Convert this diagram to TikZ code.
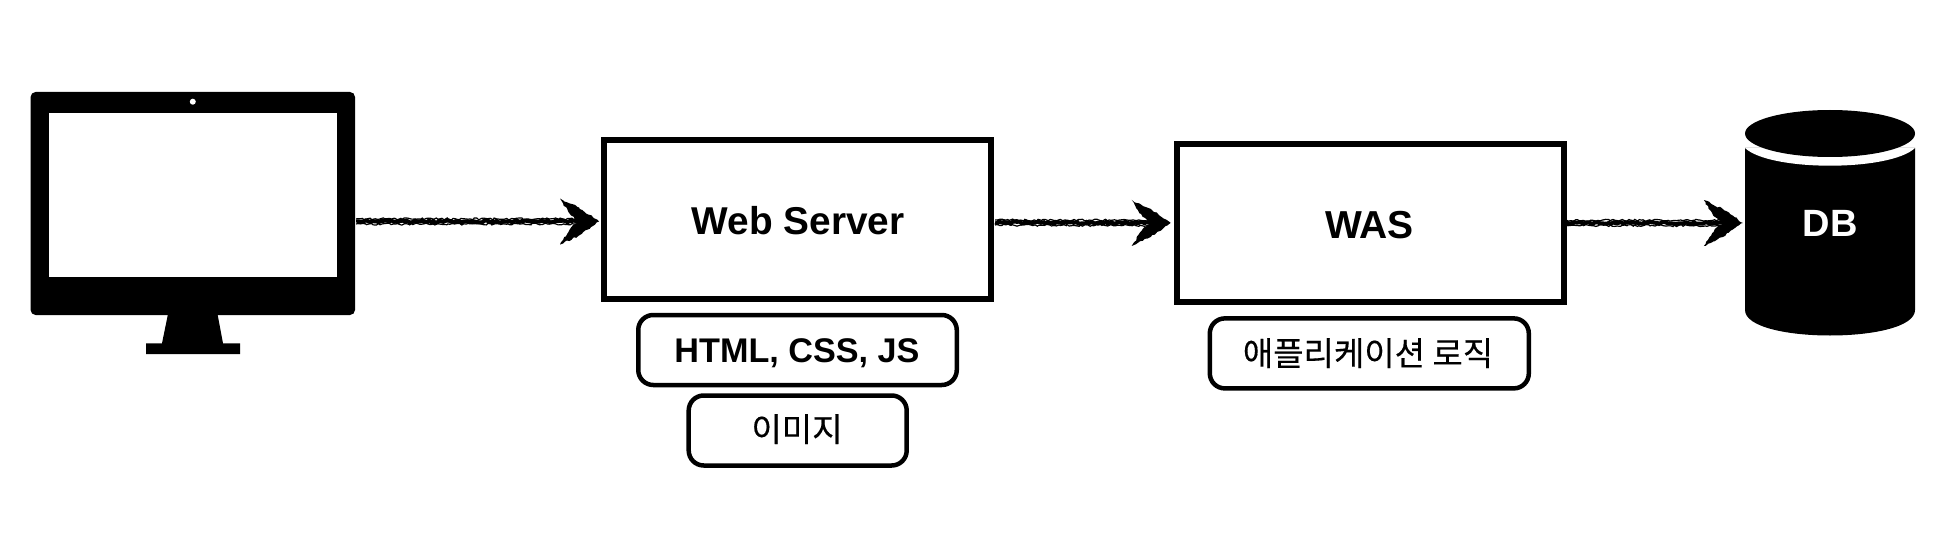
\documentclass[tikz,border=0pt]{standalone}
\usepackage{fontspec}
\setmainfont{Liberation Sans}
\newfontfamily\krfont[FakeBold=0.35]{Noto Sans CJK KR}
\usetikzlibrary{calc,decorations.pathmorphing}
\tikzset{
  bigbox/.style={draw=black,line width=6pt,fill=white,minimum width=387pt,minimum height=158pt,inner sep=0pt},
  tagbox/.style={draw=black,line width=4.5pt,fill=white,rounded corners=15pt,inner sep=0pt,minimum height=70pt},
  latinlabel/.style={anchor=base,inner sep=0pt,font=\bfseries},
  krlabel/.style={anchor=base,inner sep=0pt,font=\krfont},
  chalk/.style={decorate,decoration={random steps,segment length=2.2pt,amplitude=1pt},draw=black,line cap=butt},
  chalkfill/.style={decorate,decoration={random steps,segment length=2.5pt,amplitude=.9pt},fill=black},
}
\newcommand{\chalkarrow}[2]{%
  \draw[chalk,line width=4pt] ($(#1)+(0,0)$) -- ($(#2)+(-10,0)$);
  \draw[chalk,line width=1.2pt] ($(#1)+(0,-2.6)$) -- ($(#2)+(-22,-2.6)$);
  \draw[chalk,line width=1.2pt] ($(#1)+(0,2.6)$) -- ($(#2)+(-22,2.6)$);
  \path[chalkfill] (#2) -- ($(#2)+(-20,-14)$) -- ($(#2)+(-39,-23)$) -- ($(#2)+(-28,-6)$) -- ($(#2)+(-20,0)$) -- ($(#2)+(-28,6)$) -- ($(#2)+(-39,23)$) -- ($(#2)+(-20,14)$) -- cycle;
}
\begin{document}
\begin{tikzpicture}[x=1pt,y=-1pt]
\pgfmathsetseed{7}
\useasboundingbox (0,0) rectangle (1942,540);
\fill[white] (0,0) rectangle (1942,540);
% monitor
\fill[black] (168,314) -- (217.5,314) -- (223,343.3) -- (240,343.3) -- (240,354) -- (146,354) -- (146,343.3) -- (162,343.3) -- cycle;
\node[fill=black,rounded corners=5pt,minimum width=324.4pt,minimum height=223pt,inner sep=0pt] (mon) at (192.8,203.5) {};
\node[fill=white,minimum width=288pt,minimum height=164pt,inner sep=0pt] (screen) at (193,194.7) {};
\node[fill=white,circle,minimum size=6pt,inner sep=0pt] (cam) at (192.8,101.7) {};
% boxes
\node[bigbox] (web) at (797.5,219.5) {};
\node[bigbox] (was) at (1370.2,222.9) {};
\node[tagbox,minimum width=318.5pt] (tagA) at (797.5,350) {};
\node[tagbox,minimum width=218pt] (tagB) at (797.7,430.5) {};
\node[tagbox,minimum width=319pt] (tagC) at (1369.3,353.4) {};
% labels
\node[latinlabel,font=\bfseries\fontsize{38.8}{40}\selectfont] (webl) at (798,234.8) {Web Server};
\node[latinlabel,font=\bfseries\fontsize{39}{40}\selectfont] (wasl) at (1369.4,238.6) {WAS};
\node[latinlabel,font=\bfseries\fontsize{34.2}{36}\selectfont] (tagAl) at (797,362) {HTML, CSS, JS};
\node[krlabel,font=\krfont\fontsize{33}{35}\selectfont] (tagBl) at (797,441.5) {이미지};
\node[krlabel,font=\krfont\fontsize{33}{35}\selectfont] (tagCl) at (1368,365.5) {애플리케이션 로직};
% database
\fill[black] (1745,148) -- (1745,310) .. controls (1745,344) and (1915,344) .. (1915,310) -- (1915,148) -- cycle;
\fill[white] (1745,148) .. controls (1770,171.6) and (1890,171.6) .. (1915,148) -- cycle;
\fill[black] (1830,133.5) ellipse [x radius=85, y radius=23.5];
\node[inner sep=0pt,minimum width=170pt,text=white,font=\bfseries\fontsize{38}{40}\selectfont,text depth=0pt] (db) at (1830,223) {DB};
% connectors
\coordinate (a1s) at ($(mon.east)+(1,18)$);
\coordinate (a1e) at ($(web.west)+(-2,2)$);
\coordinate (a2s) at ($(web.east)+(1,3)$);
\coordinate (a2e) at ($(was.west)+(-3,0)$);
\coordinate (a3s) at ($(was.east)+(0,0)$);
\coordinate (a3e) at ($(db.west)+(-2,0)$);
\chalkarrow{a1s}{a1e}
\chalkarrow{a2s}{a2e}
\chalkarrow{a3s}{a3e}
\end{tikzpicture}
\end{document}
